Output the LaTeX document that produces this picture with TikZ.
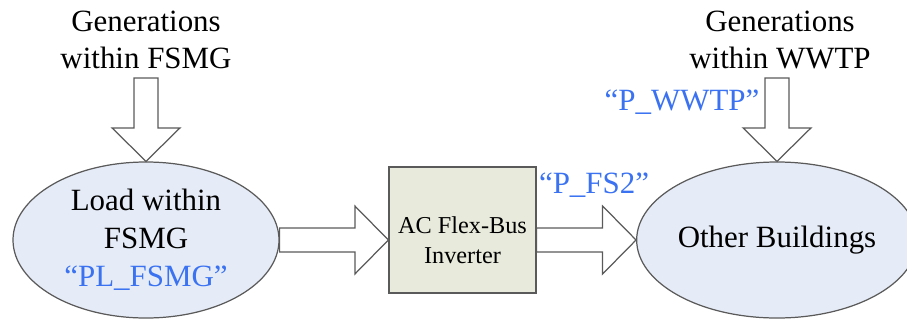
\documentclass[tikz,border=0pt]{standalone}
\usepackage{fontspec}
\setmainfont{Liberation Serif}
\usetikzlibrary{shapes.geometric, positioning, calc}
\definecolor{edg}{HTML}{5A5A5A}
\definecolor{elf}{HTML}{E6ECF7}
\definecolor{boxf}{HTML}{E8EADC}
\definecolor{pblu}{HTML}{3A72F2}
\tikzset{
  load/.style  = {ellipse, draw=edg, fill=elf, line width=0.7pt, inner sep=0pt,
                  align=center, font=\fontsize{17.6}{21.5}\selectfont},
  invbox/.style= {rectangle, draw=edg, fill=boxf, line width=0.7pt,
                  minimum width=2.94cm, minimum height=2.52cm},
  txt/.style   = {align=center, font=\fontsize{17.6}{21.5}\selectfont},
  ptag/.style  = {text=pblu, font=\fontsize{17.6}{21.5}\selectfont},
  fatarr/.style= {draw=edg, fill=white, line width=0.7pt, line join=miter},
}
% hollow block arrow sizes
\newcommand{\fsw}{0.24cm}
\newcommand{\fhw}{0.68cm}
\newcommand{\fhl}{0.67cm}
\newcommand{\fatarrow}[2]{%
  \path ($(#2)!\fhl!(#1)$) coordinate (hb);
  \draw[fatarr] ($(#1)!\fsw!90:(#2)$) -- ($(hb)!\fsw!-90:(#1)$)
    -- ($(hb)!\fhw!-90:(#1)$) -- (#2) -- ($(hb)!\fhw!90:(#1)$)
    -- ($(hb)!\fsw!90:(#1)$) -- ($(#1)!\fsw!-90:(#2)$) -- cycle;
}

\begin{document}
\begin{tikzpicture}
  \useasboundingbox (0,0) rectangle (18.14,6.4);

  \node[load, minimum width=5.32cm, minimum height=3.12cm] (lfsmg) at (2.92,1.6)
    {Load within\\FSMG\\\textcolor{pblu}{“PL\_FSMG”}};
  \node[invbox, label={[yshift=-0.2cm, align=center,
        font=\fontsize{13.8}{16.8}\selectfont]center:AC Flex-Bus\\Inverter}]
    (inv) at (9.25,1.8) {};
  \node[load, minimum width=5.24cm, minimum height=3.12cm] (oth) at (15.54,1.6)
    {Other Buildings};

  \node[txt] (gfsmg) at (2.92,5.6) {Generations\\within FSMG};
  \node[txt] (gwwtp) at (15.6,5.6) {Generations\\within WWTP};

  \coordinate (ga) at (lfsmg.north |- 0,4.84);
  \coordinate (gb) at (oth.north |- 0,4.84);
  \coordinate (il) at (inv.west |- lfsmg.east);
  \coordinate (ir) at (inv.east |- oth.west);

  % power flows
  \fatarrow{ga}{lfsmg.north}
  \fatarrow{gb}{oth.north}
  \fatarrow{lfsmg.east}{il}
  \fatarrow{ir}{oth.west}

  \node[ptag] (pfs) at (11.88,2.7) {“P\_FS2”};
  \node[ptag] (pww) at (13.64,4.36) {“P\_WWTP”};

\end{tikzpicture}
\end{document}
